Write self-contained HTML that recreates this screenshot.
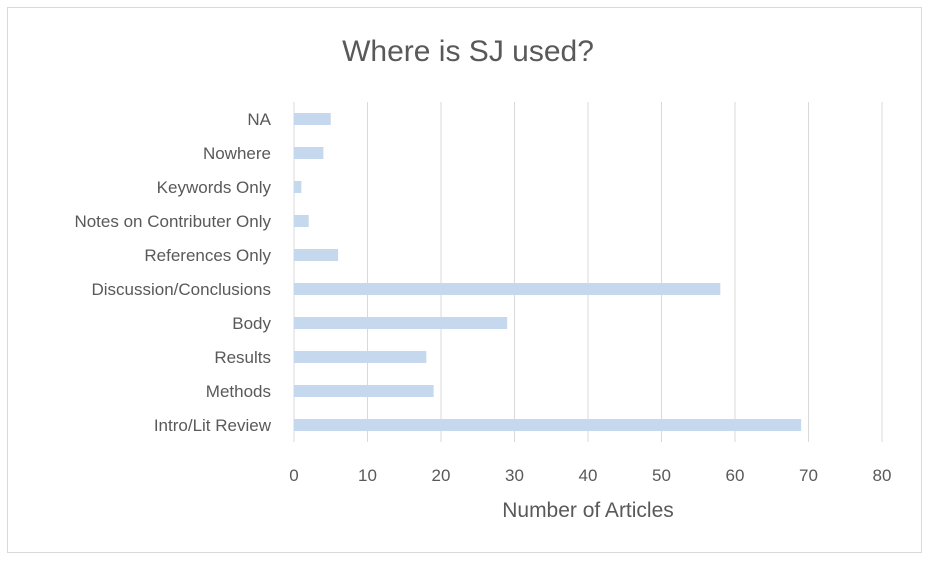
<!DOCTYPE html>
<html><head><meta charset="utf-8"><style>
body{margin:0;background:#fff;}
svg{display:block;font-family:"Liberation Sans",sans-serif;}
</style></head><body>
<svg id="c" width="930" height="562">
<rect x="7.5" y="7.5" width="914" height="545" fill="#fff" stroke="#d9d9d9"/>
<text x="468" y="61" text-anchor="middle" font-size="30" fill="#595959">Where is SJ used?</text>
<text x="588" y="517" text-anchor="middle" font-size="21" fill="#595959">Number of Articles</text>
<g id="grid"></g><g id="bars"></g><g id="labels"></g>
</svg>
<script>
const categories=["NA","Nowhere","Keywords Only","Notes on Contributer Only","References Only","Discussion/Conclusions","Body","Results","Methods","Intro/Lit Review"];
const values=[5,4,1,2,6,58,29,18,19,69];
const ticks=[0,10,20,30,40,50,60,70,80];
const NS="http://www.w3.org/2000/svg";
const x0=294,x1=882,xmax=80,yTop=102,yBot=442;
const xs=v=>x0+(x1-x0)*v/xmax;
const ys=i=>yTop+(yBot-yTop)*(i+0.5)/categories.length;
function mk(t,a,p){const e=document.createElementNS(NS,t);for(const k in a)e.setAttribute(k,a[k]);document.getElementById(p).appendChild(e);return e;}
ticks.forEach(t=>{
 const l=mk("line",{x1:xs(t),x2:xs(t),y1:yTop,y2:yBot,stroke:"#d9d9d9","stroke-width":1},"grid");
 
 
 const tx=mk("text",{x:xs(t),y:481,"text-anchor":"middle","font-size":17,fill:"#595959"},"labels");
 tx.textContent=t;
 
 
});
categories.forEach((c,i)=>{
 const r=mk("rect",{x:x0,y:ys(i)-6,width:xs(values[i])-x0,height:12,fill:"#c5d8ee"},"bars");
 
 
 const tx=mk("text",{x:271,y:ys(i)+6,"text-anchor":"end","font-size":17,fill:"#595959"},"labels");
 tx.textContent=c;
 
 
});
</script>
</body></html>
